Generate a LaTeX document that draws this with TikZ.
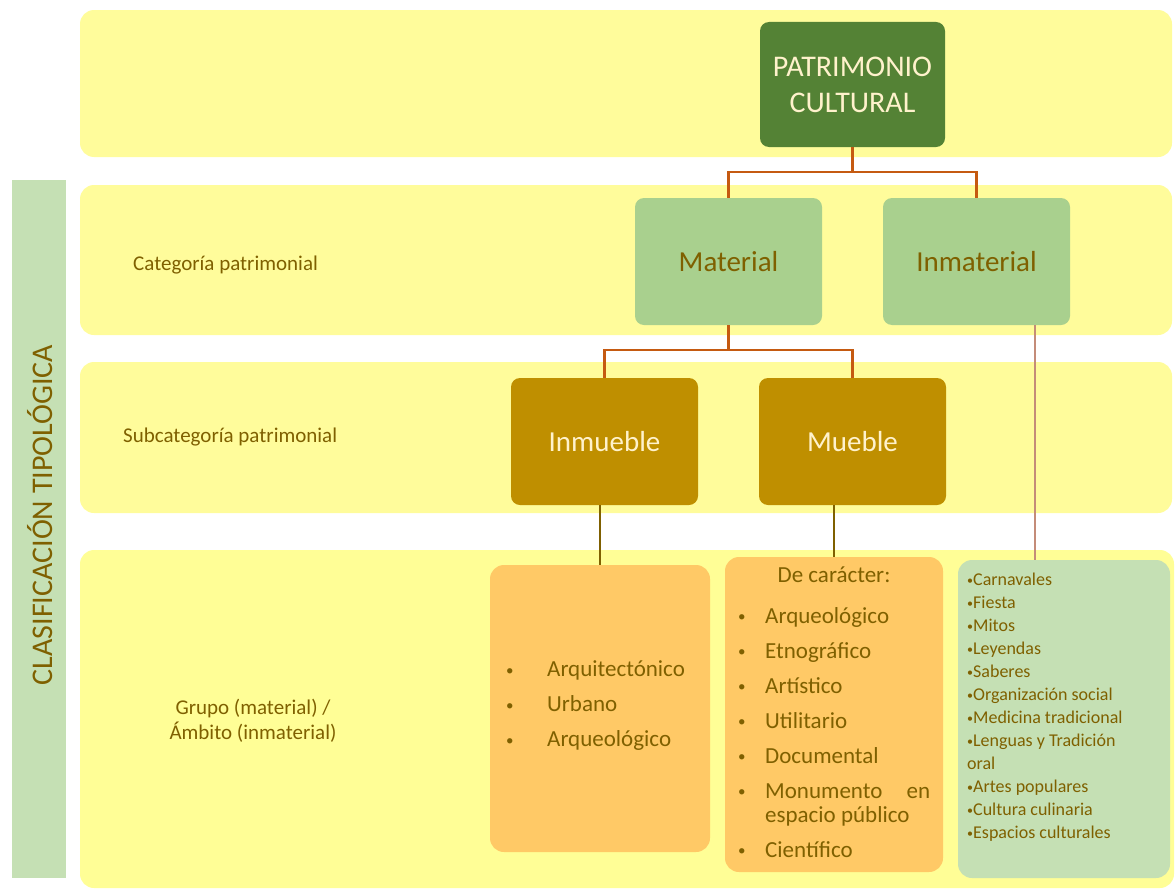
\documentclass[tikz,border=0pt]{standalone}
\usepackage{fontspec}
\setmainfont{Carlito}
\definecolor{band}{RGB}{255,252,155}
\definecolor{bandb}{RGB}{255,254,150}
\definecolor{lgreen}{RGB}{197,224,180}
\definecolor{mgreen}{RGB}{169,208,142}
\definecolor{dgreen}{RGB}{84,130,53}
\definecolor{gold}{RGB}{191,143,0}
\definecolor{lorange}{RGB}{255,201,102}
\definecolor{olive}{RGB}{127,96,0}
\definecolor{conn}{RGB}{197,90,17}
\definecolor{cream}{RGB}{255,242,204}
\definecolor{pinkline}{RGB}{196,140,120}
\newcommand\mybullet{{\fontsize{15bp}{15bp}\selectfont\raisebox{1.5bp}{•}}}
\newcommand\smbullet{{\fontsize{12bp}{12bp}\selectfont\raisebox{1.5bp}{•}}}
\tikzset{
  bandbox/.style={fill=band, draw=none, rounded corners=14bp},
  topnode/.style={fill=dgreen, draw=none, rounded corners=9bp, minimum width=185bp, minimum height=125bp,
    text=cream, align=center, font=\fontsize{30bp}{36bp}\selectfont},
  catnode/.style={fill=mgreen, draw=none, rounded corners=9bp, minimum width=187bp, minimum height=127bp,
    text=olive, font=\fontsize{29bp}{35bp}\selectfont},
  subnode/.style={fill=gold, draw=none, rounded corners=9bp, minimum width=187bp, minimum height=127bp,
    text=cream, font=\fontsize{29bp}{35bp}\selectfont},
  grpbox/.style={fill=lorange, draw=none, rounded corners=14bp},
  ambbox/.style={fill=lgreen, draw=none, rounded corners=14bp},
  rowlabel/.style={text=olive, font=\fontsize{21bp}{25bp}\selectfont, inner sep=0pt},
  listtext/.style={text=olive, align=left, inner sep=0pt},
  tree/.style={draw=conn, line width=2.4bp},
  leaf/.style={draw=olive, line width=1.1bp},
}
\begin{document}
\begin{tikzpicture}[x=1bp,y=-1bp]
\useasboundingbox (0,0) rectangle (1175,890);
% left vertical bar
\fill[lgreen] (12,180) rectangle (66,878);
\node[rotate=90, text=olive, font=\fontsize{30bp}{36bp}\selectfont, inner sep=0pt] (clasif) at (40,515) {CLASIFICACIÓN TIPOLÓGICA};
% bands
\path[bandbox] (80,10) rectangle (1172,157);
\path[bandbox] (80,185) rectangle (1172,335);
\path[bandbox] (80,362) rectangle (1172,513);
\path[bandbox, fill=bandb] (80,550) rectangle (1174,888);
% row labels
\node[rowlabel, anchor=west] (lcat) at (133,265) {Categoría patrimonial};
\node[rowlabel, anchor=west] (lsub) at (123,437) {Subcategoría patrimonial};
\node[rowlabel, align=center] (lgrp) at (253,721) {Grupo (material) /\\Ámbito (inmaterial)};
% tree nodes
\node[topnode] (pat) at (852.5,84.5) {PATRIMONIO\\CULTURAL};
\node[catnode] (mat) at (728.5,261.5) {Material};
\node[catnode] (inm) at (976.5,261.5) {Inmaterial};
\node[subnode] (inmb) at (604.5,441.5) {Inmueble};
\node[subnode] (mueb) at (852.5,441.5) {Mueble};
% bottom boxes
\node[grpbox, minimum width=220bp, minimum height=287bp] (boxA) at (600,708.5) {};
\node[grpbox, minimum width=218bp, minimum height=315bp] (boxB) at (834,714.5) {};
\node[ambbox, minimum width=212bp, minimum height=318bp] (boxC) at (1064,719) {};
% connectors
\draw[tree] (pat.south) -- ++(0,25) coordinate (j1);
\draw[tree] (mat.north) |- (j1) -| (inm.north);
\draw[tree] (mat.south) -- ++(0,25) coordinate (j2);
\draw[tree] (inmb.north) |- (j2) -| (mueb.north);
\draw[leaf] (boxA.north) -- (boxA.north |- inmb.south);
\draw[leaf] (boxB.north) -- (boxB.north |- mueb.south);
\coordinate (lx) at (1035,0);
\draw[draw=pinkline, line width=1.1bp] (inm.south -| lx) -- (boxC.north -| lx);
% box texts
\node[listtext, anchor=west, font=\fontsize{23bp}{35bp}\selectfont] (txtA) at (506,706)
  {\makebox[41bp][l]{\mybullet}Arquitectónico\\
   \makebox[41bp][l]{\mybullet}Urbano\\
   \makebox[41bp][l]{\mybullet}Arqueológico};
\node[text=olive, font=\fontsize{23bp}{28bp}\selectfont, inner sep=0pt] (titB) at (834,575) {De carácter:};
\node[listtext, anchor=north west, font=\fontsize{23bp}{24bp}\selectfont] (txtB) at (738,607)
  {\makebox[27bp][l]{\mybullet}Arqueológico\\[11bp]
   \makebox[27bp][l]{\mybullet}Etnográfico\\[11bp]
   \makebox[27bp][l]{\mybullet}Artístico\\[11bp]
   \makebox[27bp][l]{\mybullet}Utilitario\\[11bp]
   \makebox[27bp][l]{\mybullet}Documental\\[11bp]
   \makebox[27bp][l]{\mybullet}\makebox[165bp][s]{Monumento\hfill en}\\
   \makebox[27bp]{}espacio público\\[11bp]
   \makebox[27bp][l]{\mybullet}Científico};
\node[listtext, anchor=north west, font=\fontsize{18bp}{23bp}\selectfont] (txtC) at (967,573)
  {\smbullet Carnavales\\
   \smbullet Fiesta\\
   \smbullet Mitos\\
   \smbullet Leyendas\\
   \smbullet Saberes\\
   \smbullet Organización social\\
   \smbullet Medicina tradicional\\
   \smbullet Lenguas y Tradición\\
   oral\\
   \smbullet Artes populares\\
   \smbullet Cultura culinaria\\
   \smbullet Espacios culturales};
\end{tikzpicture}
\end{document}
